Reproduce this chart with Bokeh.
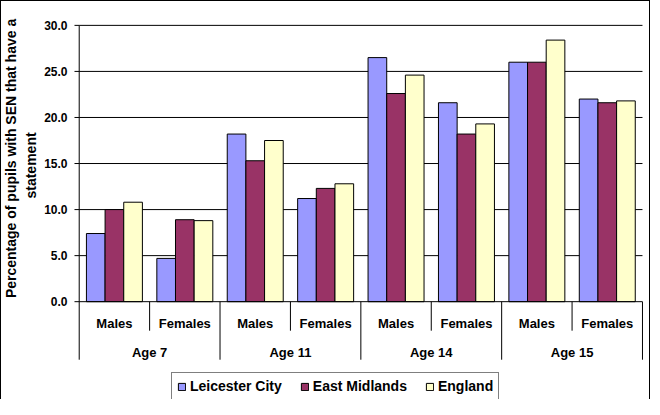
from bokeh.plotting import figure
from bokeh.models import Range1d, ColumnDataSource, Legend, LegendItem
from bokeh.core.properties import value
from bokeh.embed import file_html
from bokeh.resources import INLINE
import math

# ---- data ----
ages = ["Age 7", "Age 11", "Age 14", "Age 15"]
genders = ["Males", "Females"]
series_names = ["Leicester City", "East Midlands", "England"]
leicester = [7.4, 4.7, 18.2, 11.2, 26.5, 21.6, 26.0, 22.0]
east_midlands = [10.0, 8.9, 15.3, 12.3, 22.6, 18.2, 26.0, 21.6]
england = [10.8, 8.8, 17.5, 12.8, 24.6, 19.3, 28.4, 21.8]
y_ticks = [0, 5, 10, 15, 20, 25, 30]
y_title_1 = "Percentage of pupils with SEN that have a"
y_title_2 = "statement"

colors = ["#9999FF", "#993366", "#FFFFCC"]
FONT = "Liberation Sans"

n_cat = len(ages) * len(genders)
cat_labels = [g for a in ages for g in genders]

# whole figure is the frame; the chart is drawn with glyphs in data space
p = figure(width=650, height=399, output_backend="svg", toolbar_location=None,
           x_axis_location=None, y_axis_location=None,
           x_range=Range1d(-1.118, 8.114), y_range=Range1d(-10.62, 32.70),
           min_border=0)
p.outline_line_color = None
p.border_fill_color = None
p.background_fill_color = None
p.xgrid.visible = False
p.ygrid.visible = False
p.styles = {"box-shadow": "inset 1px 1px 0 0 #000000, inset -1px 0 0 0 #000000"}

# gridlines
grid_y = y_ticks[1:]
p.segment(x0=[0] * len(grid_y), y0=grid_y, x1=[n_cat] * len(grid_y), y1=grid_y,
          line_color="black", line_width=1)

# bars
bar_w = 0.265
offsets = [-bar_w, 0.0, bar_w]
renderers = []
for vals, off, col in zip([leicester, east_midlands, england], offsets, colors):
    src = ColumnDataSource(dict(x=[i + 0.5 + off for i in range(n_cat)], top=vals))
    r = p.vbar(x="x", top="top", bottom=0, width=bar_w, source=src,
               fill_color=col, line_color="black", line_width=1)
    renderers.append(r)

# y axis: line, ticks, labels
tick_len = 0.067
p.segment(x0=[0], y0=[y_ticks[-1]], x1=[0], y1=[-6.3], line_color="black", line_width=1)
p.segment(x0=[-tick_len] * len(y_ticks), y0=y_ticks, x1=[0] * len(y_ticks), y1=y_ticks,
          line_color="black", line_width=1)
p.text(x=[-0.166] * len(y_ticks), y=y_ticks, text=[f"{t:.1f}" for t in y_ticks],
       text_align="right", text_baseline="middle", text_font=value(FONT),
       text_font_style="bold", text_font_size="12px", text_color="black")

# x axis line and category separators
sep_major_depth = -6.3
sep_minor_depth = -3.15
p.segment(x0=[0], y0=[0], x1=[n_cat], y1=[0], line_color="black", line_width=1)
major_x = [2 * (j + 1) for j in range(len(ages))]
minor_x = [2 * j + 1 for j in range(len(ages))]
p.segment(x0=major_x, y0=[0] * len(major_x), x1=major_x, y1=[sep_major_depth] * len(major_x),
          line_color="black", line_width=1)
p.segment(x0=minor_x, y0=[0] * len(minor_x), x1=minor_x, y1=[sep_minor_depth] * len(minor_x),
          line_color="black", line_width=1)

# category labels
p.text(x=[i + 0.5 for i in range(n_cat)], y=[-2.36] * n_cat, text=cat_labels,
       text_align="center", text_baseline="middle", text_font=value(FONT),
       text_font_style="bold", text_font_size="13px", text_color="black")
p.text(x=[2 * j + 1 for j in range(len(ages))], y=[-5.54] * len(ages), text=ages,
       text_align="center", text_baseline="middle", text_font=value(FONT),
       text_font_style="bold", text_font_size="13px", text_color="black")

# y axis title (two lines)
p.text(x=[-0.962], y=[15.55], text=[y_title_1], angle=math.pi / 2,
       text_align="center", text_baseline="middle", text_font=value(FONT),
       text_font_style="bold", text_font_size="14px", text_color="black")
p.text(x=[-0.678], y=[11.2], text=[y_title_2], angle=math.pi / 2,
       text_align="left", text_baseline="middle", text_font=value(FONT),
       text_font_style="bold", text_font_size="14px", text_color="black")

# legend
legend = Legend(items=[LegendItem(label=n, renderers=[r]) for n, r in zip(series_names, renderers)],
                orientation="horizontal", location=(171, -1),
                border_line_color="black", border_line_width=1, background_fill_color="white",
                padding=5, spacing=18, margin=0, glyph_width=9, glyph_height=9,
                label_standoff=4, label_height=14,
                label_text_font=FONT, label_text_font_style="bold", label_text_font_size="14px",
                label_text_color="black")
p.add_layout(legend)

open("out.html", "w").write(file_html(p, INLINE))
